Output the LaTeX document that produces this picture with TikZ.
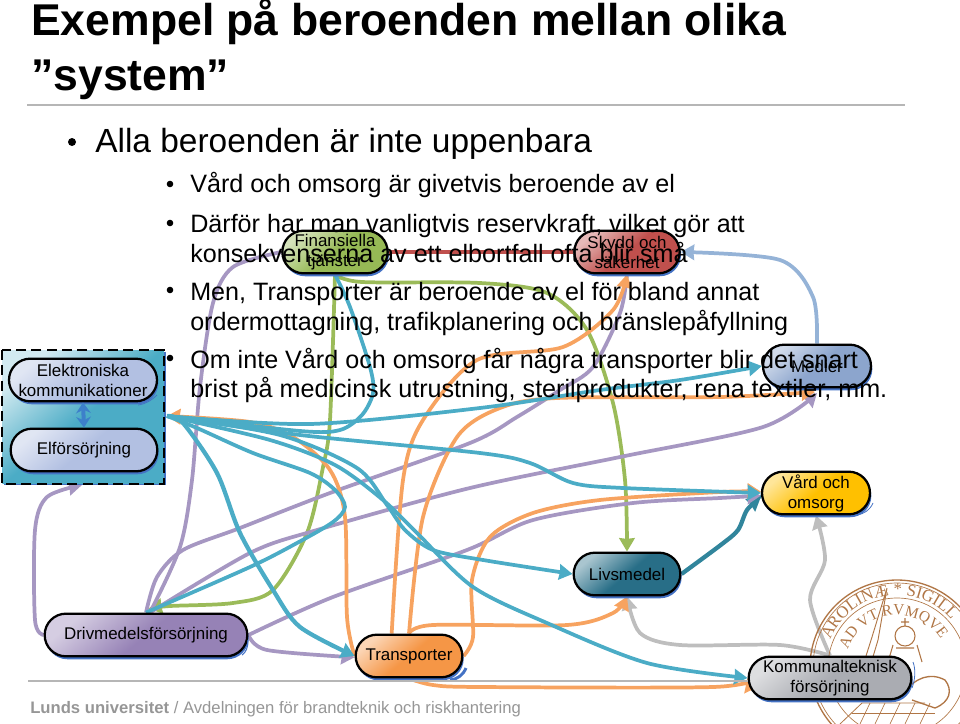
\documentclass[tikz,border=0pt]{standalone}
\usepackage{fontspec}
\setmainfont{Liberation Sans}
\newfontfamily\sealfont{Liberation Serif}
\usepackage{xcolor}
\usetikzlibrary{calc,arrows.meta,positioning,backgrounds,shadows,decorations.text}
\definecolor{linkTeal}{RGB}{75,172,198}
\definecolor{linkOrange}{RGB}{247,163,96}
\definecolor{linkPurple}{RGB}{166,151,194}
\definecolor{linkGreen}{RGB}{155,187,89}
\definecolor{linkRed}{RGB}{192,80,77}
\definecolor{linkBlue}{RGB}{149,179,215}
\definecolor{linkDark}{RGB}{49,133,156}
\definecolor{linkGray}{RGB}{190,190,190}
\definecolor{shadowBlue}{RGB}{68,114,196}
\definecolor{sealBrown}{RGB}{176,118,70}
\definecolor{footGray}{RGB}{150,150,150}
\definecolor{elBox}{RGB}{178,192,226}
\definecolor{drivBox}{RGB}{150,130,182}
\definecolor{finBox}{RGB}{150,185,85}
\definecolor{skyddBox}{RGB}{192,80,77}
\definecolor{medierBox}{RGB}{140,165,205}
\definecolor{vardBox}{RGB}{255,192,0}
\definecolor{livsBox}{RGB}{40,110,135}
\definecolor{kommunBox}{RGB}{170,172,178}
\definecolor{transBox}{RGB}{245,150,70}
\tikzset{
  sysbox/.style={draw=black,line width=1.7pt,rectangle,rounded corners=16pt,align=center,
    inner sep=0pt,font=\fontsize{12.7}{15}\selectfont,
    top color=white!60!#1,bottom color=#1,middle color=#1,shading angle=40,
    drop shadow={shadow xshift=1pt,shadow yshift=-2.2pt,fill=shadowBlue,opacity=1}},
  link/.style={line width=2.8pt,-{Stealth[inset=0.5pt,length=10pt,width=11.5pt]}},
  plainlink/.style={line width=2.8pt},
  heading/.style={anchor=base west,inner sep=0pt,font=\fontsize{33.4}{33.4}\bfseries\selectfont},
  topbullet/.style={anchor=base west,inner sep=0pt,font=\fontsize{25.1}{25.1}\selectfont},
  subbullet/.style={anchor=base west,inner sep=0pt,font=\fontsize{18.85}{18.85}\selectfont},
}
\begin{document}
\begin{tikzpicture}[x=0.75pt,y=-0.75pt]
\useasboundingbox (0,0) rectangle (960,724);
% sigill
\begin{scope}
\clip (780,570) rectangle (960,724);
\draw[sealBrown,line width=1pt] (897,667) circle (87);
\draw[sealBrown,line width=0.5pt] (897,667) circle (84);
\draw[sealBrown,line width=0.5pt] (897,667) circle (69);
\path[decorate,decoration={text along path,text color=sealBrown,
  text={|\sealfont\fontsize{12.5}{12.5}\selectfont|AROLINÆ * SIGILL}}]
  (897,667) ++(202:72) arc (202:345:72);
\path[decorate,decoration={text along path,text color=sealBrown,
  text={|\sealfont\fontsize{11.5}{11.5}\selectfont|AD VT RVMQVE}}]
  (897,667) ++(199:52) arc (199:340:52);
\draw[sealBrown,line width=0.7pt] (887,588)--(878,640)--(866,680) (887,588)--(872,637)--(860,675);
\draw[sealBrown,line width=0.8pt] (905,636) circle (10) (905,626)--(905,618) (901,622)--(909,622)
  (893,645)--(888,662) (917,645)--(922,662) (896,648)--(914,648);
\foreach \cx/\cy in {928,651,947,648,938,660}{
  \draw[sealBrown,line width=0.6pt] (\cx-6,\cy-6)--(\cx-3,\cy-2)--(\cx,\cy-7)--(\cx+3,\cy-2)--(\cx+6,\cy-6)--(\cx+4,\cy)--(\cx-4,\cy)--cycle;
}
\draw[sealBrown,line width=1pt] (905,692) .. controls (915,678) and (930,672) .. (945,680)
  .. controls (953,690) and (950,702) .. (935,708) -- (912,700);
\draw[sealBrown,line width=0.6pt] (840,724)--(862,703)--(925,703);
\foreach \gx in {870,885,900,915,930}{\draw[sealBrown,line width=0.5pt] (\gx,703)--(\gx-10,724);}
\draw[sealBrown,line width=0.5pt] (852,713)--(935,713);
\end{scope}
% systemgruppen
\node[draw=none,rectangle,minimum width=121pt,minimum height=100pt,anchor=north west,inner sep=0pt,
  top color=white!75!linkTeal,bottom color=linkTeal,middle color=linkTeal,shading angle=40,
  drop shadow={shadow xshift=1.5pt,shadow yshift=-1pt,fill=shadowBlue,opacity=1}] (group) at (2,350) {};
\draw[black,line width=2pt,dash pattern=on 7.5pt off 4pt] (group.north west) rectangle (group.south east);
\coordinate (hub) at (167,416);
% noder
\node[sysbox=elBox,minimum width=111pt,minimum height=32pt] (elek) at (83,380) {Elektroniska\\kommunikationer};
\node[sysbox=elBox,minimum width=110pt,minimum height=32pt] (elfor) at (84,450) {Elförsörjning};
\node[sysbox=finBox,minimum width=79pt,minimum height=32pt] (finans) at (335,252) {Finansiella\\tjänster};
\node[sysbox=skyddBox,minimum width=79pt,minimum height=32pt] (skydd) at (627,252) {Skydd och\\säkerhet};
\node[sysbox=medierBox,minimum width=81pt,minimum height=32pt] (medier) at (817,366) {Medier};
\node[sysbox=vardBox,minimum width=81pt,minimum height=32pt] (vard) at (816,493) {Vård och\\omsorg};
\node[sysbox=livsBox,minimum width=80pt,minimum height=32pt] (livs) at (627,574) {Livsmedel};
\node[sysbox=kommunBox,minimum width=122pt,minimum height=32pt] (kommun) at (830,678) {Kommunalteknisk\\försörjning};
\node[sysbox=transBox,minimum width=80pt,minimum height=32pt] (trans) at (409,656) {Transporter};
\node[sysbox=drivBox,minimum width=152pt,minimum height=32pt] (driv) at (146,635) {Drivmedelsförsörjning};
% beroenden
\begin{scope}[on background layer]
\draw[plainlink,linkRed] (finans.east) -- (skydd.west);
\draw[link,linkBlue] plot[smooth] coordinates {(medier.north) (813,297) (780,260) (skydd.east)};
\draw[link,linkDark,line width=3.2pt] plot[smooth] coordinates {(livs.east) (722,544) (738,530) (747,510) ([yshift=-3pt]vard.west)};
\draw[link,linkGray] plot[smooth] coordinates {(kommun.north) (810,600) (825,560) (vard.south)};
\draw[link,linkGray] plot[smooth] coordinates {(kommun.north) (780,645) (680,645) (640,633) (livs.south)};
% gront
\draw[link,linkGreen] plot[smooth] coordinates {(finans.south) (330,420) (323,467) (307,533) (273,590) (233,603) (170,606) ([xshift=2pt,yshift=3pt]driv.north)};
\draw[link,linkGreen] plot[smooth] coordinates {(finans.south) (362,282) (480,283) (547,293) (587,330) (613,403) (625,480) (livs.north)};
% lila
\draw[link,linkPurple] plot[smooth] coordinates {(driv.west) (35,620) (35,530) (47,497) (82,485)};
\draw[plainlink,linkPurple] plot[smooth] coordinates {([xshift=3pt]driv.north) (180,547) (192,480) (200,387) (213,303) (233,267) (finans.west)};
\draw[plainlink,linkPurple] plot[smooth] coordinates {(driv.north) (157,577) (183,550) (240,528) (330,493) (470,443) (517,417) (560,390) (593,367) (620,313) (skydd.south)};
\draw[link,linkPurple] plot[smooth] coordinates {([xshift=3pt]driv.north) (250,553) (317,530) (470,488) (620,457) (763,427) (817,393)};
\draw[link,linkPurple] plot[smooth] coordinates {(driv.east) (267,650) ([yshift=-1pt]trans.west)};
\draw[link,linkPurple] plot[smooth] coordinates {(driv.east) (333,597) (467,550) (533,520) (633,503) (720,498) ([yshift=-2pt]vard.west)};
% orange
\draw[link,linkOrange] plot[smooth] coordinates {(trans.west) (347,617) (345,517) (330,470) (293,437) (250,422) (hub)};
\draw[link,linkOrange] plot[smooth] coordinates {([xshift=-13pt]trans.north) (403,480) (423,420) (477,360) (563,347) (613,310) (skydd.south)};
\draw[link,linkOrange] plot[smooth] coordinates {(trans.north) (423,517) (457,437) (500,408) (557,398) (720,397) (815,392)};
\draw[link,linkOrange] plot[smooth] coordinates {(trans.north) (433,625) (567,625) (613,613) (livs.south)};
\draw[link,linkOrange] plot[smooth] coordinates {(trans.east) (473,637) (472,580) (490,537) (533,513) (600,500) (720,492) ([yshift=1pt]vard.west)};
\draw[link,linkOrange] plot[smooth] coordinates {(trans.south) (433,685) (480,687) (713,687) (kommun.west)};
% turkos
\draw[plainlink,linkTeal] plot[smooth] coordinates {(hub) (300,431) (340,430) (362,415) (373,393) (370,367) (350,307) (finans.south)};
\draw[link,linkTeal] plot[smooth] coordinates {(hub) (310,424) (480,408) (600,390) (680,380) (medier.west)};
\draw[link,linkTeal] plot[smooth] coordinates {(hub) (300,435) (480,453) (530,463) (573,483) (623,488) (vard.west)};
\draw[link,linkTeal] plot[smooth] coordinates {(hub) (280,435) (357,468) (387,505) (405,530) (433,550) (483,560) (livs.west)};
\draw[link,linkTeal] plot[smooth] coordinates {(hub) (270,440) (335,465) (383,500) (417,533) (473,587) (547,623) (647,663) (kommun.west)};
\draw[link,linkTeal,line width=3.2pt] plot[smooth] coordinates {(hub) (183,423) (217,473) (240,533) (273,590) (300,627) (trans.west)};
\draw[plainlink,linkTeal] plot[smooth] coordinates {(hub) (197,428) (253,453) (310,473) (335,490) (345,507) (333,522) (297,543) (250,567) (driv.north)};
\end{scope}
% smala bagar
\draw[shadowBlue,line width=0.6pt] (857,515) .. controls (864,514) and (870,510) .. (873,503);
\draw[shadowBlue,line width=0.8pt] (242,655) .. controls (246,652) and (248,648) .. (248,640);
\draw[shadowBlue,line width=0.6pt] (913,662) .. controls (916,670) and (915,680) .. (912,688);
\draw[shadowBlue,line width=0.6pt] (138,405) .. controls (146,404) and (152,400) .. (157,395);
\draw[shadowBlue,line width=2.2pt] (450,680) .. controls (458,679) and (463,675) .. (466,668);
\draw[shadowBlue!90!cyan,line width=3pt,{Stealth[length=8pt,width=11pt]}-{Stealth[length=8pt,width=11pt]}] (elek.south) -- (elfor.north);
% text
\node[heading] (rubrik1) at (31,36) {Exempel på beroenden mellan olika};
\node[heading] (rubrik2) at (31,91) {”system”};
\draw[footGray!70,line width=0.8pt] (27,105) -- (905,105);
\node[topbullet] (alla) at (95,152) {Alla beroenden är inte uppenbara};
\fill (72,142) circle (4);
\foreach \by/\btxt in {192/{Vård och omsorg är givetvis beroende av el},232/{Därför har man vanligtvis reservkraft, vilket gör att},262/{konsekvenserna av ett elbortfall ofta blir små},300/{Men, Transporter är beroende av el för bland annat},330/{ordermottagning, trafikplanering och bränslepåfyllning},368/{Om inte Vård och omsorg får några transporter blir det snart},397/{brist på medicinsk utrustning, sterilprodukter, rena textiler, mm.}}{
  \node[subbullet] at (190,\by) {\btxt};
}
\foreach \dy in {184,223,290,358}{\fill (170,\dy) circle (3.3);}
% sidfot
\draw[footGray!70,line width=0.8pt] (28,681) -- (748,681);
\node[anchor=base west,inner sep=0pt,text=footGray,font=\fontsize{12.5}{12.5}\selectfont] (fot) at (30,713) {\textbf{Lunds universitet} / Avdelningen för brandteknik och riskhantering};
\end{tikzpicture}
\end{document}
